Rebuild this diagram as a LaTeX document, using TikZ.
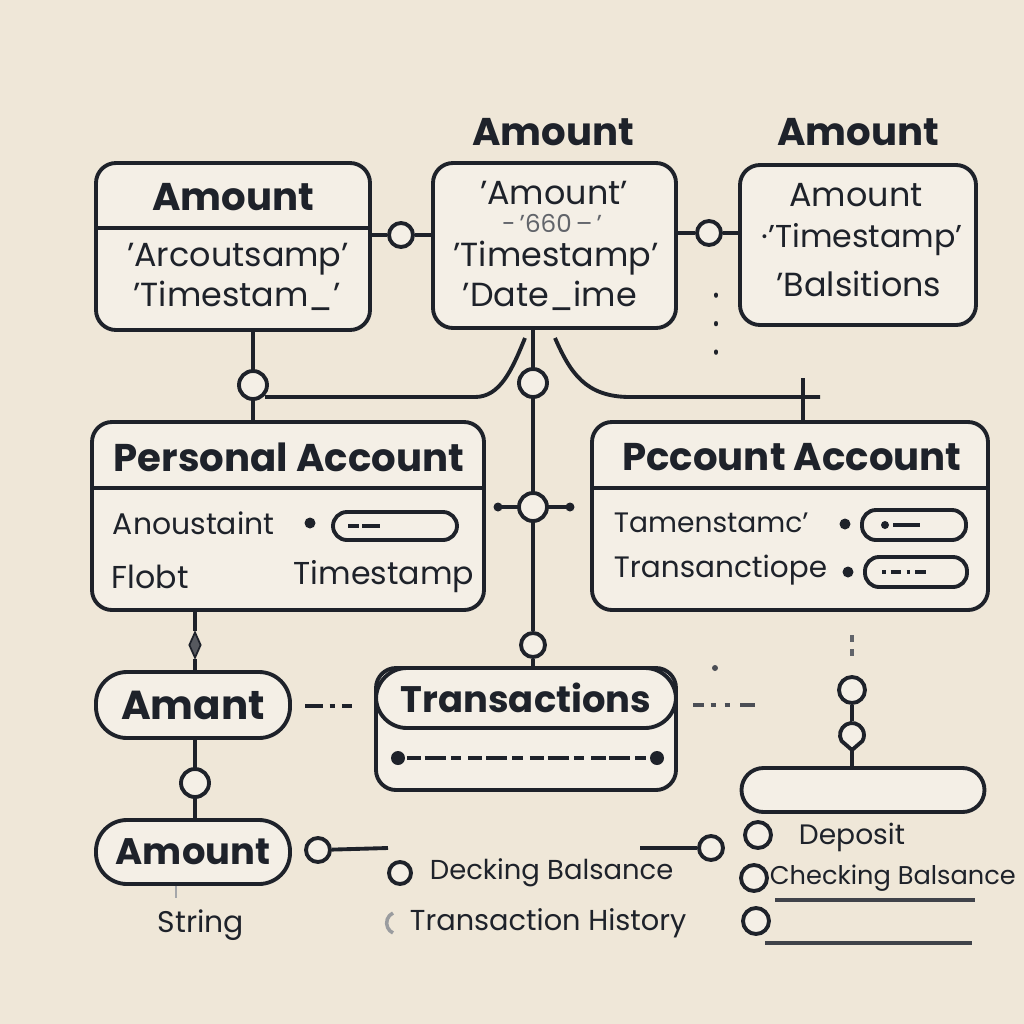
\documentclass[tikz,border=0pt]{standalone}
\usepackage{fontspec}
\setmainfont{Poppins}
\usetikzlibrary{positioning,shapes}
\definecolor{paper}{HTML}{EFE7D8}
\definecolor{boxfill}{HTML}{F4EFE6}
\definecolor{ink}{HTML}{1E222A}

\begin{document}
\begin{tikzpicture}[
    entity/.style={draw=ink,fill=boxfill,rounded corners=2mm,line width=1.1pt,inner sep=0},
    pill/.style={entity,rounded corners=3.1mm},
    slot/.style={draw=ink,rounded corners=1.4mm,line width=1.1pt,minimum height=0.28cm,inner sep=0},
    joint/.style={draw=ink,fill=boxfill,circle,line width=1.1pt,minimum size=2.4mm,inner sep=0},
    title/.style={font=\bfseries\fontsize{11}{13}\selectfont,text=ink},
    lab/.style={font=\fontsize{9.5}{11}\selectfont,text=ink,inner sep=0},
    dotmark/.style={fill=ink,circle,inner sep=0,minimum size=1.1mm},
    every path/.style={line width=1.1pt,color=ink}
  ]
  \fill[paper] (0,0) rectangle (10.24,-10.24);
  \useasboundingbox (0,0) rectangle (10.24,-10.24);

  %top row
  \node[entity,minimum width=2.74cm,minimum height=1.67cm] (amtA) at (2.33,-2.465) {};
  \node[entity,minimum width=2.43cm,minimum height=1.65cm] (amtB) at (5.545,-2.455) {};
  \node[entity,minimum width=2.36cm,minimum height=1.60cm] (amtC) at (8.58,-2.45) {};
  \draw (amtA.west |- 0,-2.28) -- (amtA.east |- 0,-2.28);

  \node[title] (amtAt) at (2.33,-1.97) {Amount};
  \node[lab] (amtA1) at (2.38,-2.59) {'Arcoutsamp'};
  \node[lab] (amtA2) at (2.37,-2.96) {'Timestam\_'};

  \node[title] (amtBt) at (5.53,-1.32) {Amount};
  \node[lab] (amtB1) at (5.54,-1.93) {'Amount'};
  \node[lab,text=ink!70,font=\fontsize{7}{8}\selectfont] (amtB2) at (5.52,-2.23) {-\,'660\,--\,'};
  \node[lab] (amtB3) at (5.56,-2.58) {'Timestamp'};
  \node[lab] (amtB4) at (5.50,-2.96) {'Date\_ime};

  \node[title] (amtCt) at (8.58,-1.32) {Amount};
  \node[lab] (amtC1) at (8.56,-1.95) {Amount};
  \node[lab,font=\fontsize{9}{11}\selectfont] (amtC2) at (8.62,-2.40) {\textperiodcentered'Timestamp'};
  \node[lab] (amtC3) at (8.59,-2.84) {'Balsitions};

  \node[joint] (jAB) at (4.01,-2.35) {};
  \node[joint] (jBC) at (7.09,-2.33) {};
  \draw (jAB) -- (jAB -| amtA.east);
  \draw (jAB) -- (jAB -| amtB.west);
  \draw (jBC) -- (jBC -| amtB.east);
  \draw (jBC) -- (jBC -| amtC.west);
  \draw[dash pattern=on 0.1pt off 8pt,line cap=round,line width=1.4pt] (7.16,-2.95) -- (7.16,-3.80);

  %middle row
  \node[entity,minimum width=3.92cm,minimum height=1.88cm] (personal) at (2.88,-5.16) {};
  \node[entity,minimum width=3.96cm,minimum height=1.88cm] (pccount) at (7.90,-5.16) {};
  \draw (personal.west |- 0,-4.88) -- (personal.east |- 0,-4.88);
  \draw (pccount.west |- 0,-4.88) -- (pccount.east |- 0,-4.88);

  \node[title] (personalt) at (2.89,-4.57) {Personal Account};
  \node[lab,anchor=west,font=\fontsize{8.5}{10}\selectfont] (pers1) at (1.11,-5.23) {Anoustaint};
  \node[dotmark] (pers1d) at (3.10,-5.23) {};
  \node[slot,minimum width=1.24cm] (pers1s) at (3.95,-5.26) {};
  \draw[dash pattern=on 3pt off 1pt on 5pt off 1pt] (3.48,-5.26) -- (3.82,-5.26);
  \node[lab,anchor=west,font=\fontsize{9}{10}\selectfont] (pers2) at (1.10,-5.77) {Flobt};
  \node[lab,anchor=east,font=\fontsize{9}{10}\selectfont] (pers3) at (4.76,-5.77) {Timestamp};

  \node[title] (pccountt) at (7.92,-4.57) {Pccount Account};
  \node[lab,anchor=west,font=\fontsize{8}{10}\selectfont] (pcc1) at (6.12,-5.23) {Tamenstamc'};
  \node[dotmark] (pcc1d) at (8.45,-5.24) {};
  \node[slot,minimum width=1.04cm,minimum height=0.30cm] (pcc1s) at (9.14,-5.25) {};
  \node[dotmark,minimum size=0.8mm] (pcc1i) at (8.85,-5.25) {};
  \draw (8.93,-5.25) -- (9.20,-5.25);
  \node[lab,anchor=west,font=\fontsize{8.4}{10}\selectfont] (pcc2) at (6.12,-5.70) {Transanctiope};
  \node[dotmark] (pcc2d) at (8.48,-5.72) {};
  \node[slot,minimum width=1.02cm,minimum height=0.30cm] (pcc2s) at (9.16,-5.72) {};
  \draw[dash pattern=on 1pt off 1.5pt on 3pt off 1.5pt] (8.82,-5.72) -- (9.30,-5.72);

  %links between rows
  \node[joint,minimum height=2.8mm] (jA) at (2.53,-3.85) {};
  \draw (jA) -- (jA |- amtA.south);
  \draw (jA) -- (jA |- personal.north);
  \coordinate (cL) at (2.65,-3.97);
  \coordinate (cB1) at (5.25,-3.38);
  \draw (cL) -- (4.75,-3.97) .. controls (5.00,-3.97) and (5.12,-3.70) .. (cB1);

  \node[joint,minimum height=2.8mm] (jB) at (5.33,-3.83) {};
  \draw (jB) -- (jB |- amtB.south);
  \node[joint,minimum size=2.8mm] (jM) at (5.33,-5.07) {};
  \draw (jB) -- (jM);
  \coordinate (mL) at (4.98,-5.07);
  \coordinate (mR) at (5.70,-5.07);
  \draw (jM) -- (mL);
  \draw (jM) -- (mR);
  \fill (mL) circle (0.45mm);
  \fill (mR) circle (0.45mm);

  \coordinate (cB2) at (5.55,-3.38);
  \coordinate (cR) at (8.20,-3.97);
  \draw (cB2) .. controls (5.70,-3.72) and (5.85,-3.97) .. (6.30,-3.97) -- (cR);
  \coordinate (cX) at (8.03,-3.78);
  \draw (cX) -- (cX |- pccount.north);

  %lower row
  \node[pill,minimum width=1.94cm,minimum height=0.66cm] (amant) at (1.93,-7.05) {};
  \node[title,font=\bfseries\fontsize{11.5}{13}\selectfont] (amantt) at (1.93,-7.05) {Amant};
  \node[draw=ink,fill=ink!75,diamond,aspect=0.45,minimum width=1.2mm,minimum height=2.6mm,inner sep=0,line width=0.5pt] (dia) at (1.95,-6.45) {};
  \draw (dia) -- (dia |- personal.south);
  \draw (dia) -- (dia |- amant.north);

  \node[entity,minimum width=3.00cm,minimum height=1.22cm] (transLow) at (5.26,-7.29) {};
  \node[pill,minimum width=3.00cm,minimum height=0.60cm] (trans) at (5.26,-6.98) {};
  \node[title,font=\bfseries\fontsize{10.5}{13}\selectfont] (transt) at (5.26,-6.98) {Transactions};
  \node[dotmark,minimum size=1.4mm] (transd1) at (3.98,-7.58) {};
  \node[dotmark,minimum size=1.4mm] (transd2) at (6.57,-7.58) {};
  \draw[dash pattern=on 4pt off 1pt on 6pt off 1.5pt on 3pt off 2pt] (transd1) -- (transd2);

  \node[joint] (jT) at (5.33,-6.45) {};
  \draw (jM) -- (jT);
  \draw (jT) -- (jT |- trans.north);

  \coordinate (aT1) at (3.05,-7.06);
  \coordinate (aT2) at (3.55,-7.06);
  \draw[dash pattern=on 5pt off 2pt on 1.5pt off 2pt on 3pt off 9pt] (aT1) -- (aT2);
  \coordinate (tR1) at (6.93,-7.05);
  \coordinate (tR2) at (7.62,-7.05);
  \draw[dash pattern=on 3pt off 2pt on 1.5pt off 2.5pt on 1.5pt off 3pt on 4pt off 9pt,color=ink!80] (tR1) -- (tR2);
  \fill[ink!80] (7.15,-6.68) circle (0.3mm);

  \node[pill,rounded corners=2.2mm,minimum width=2.43cm,minimum height=0.44cm] (blank) at (8.63,-7.90) {};
  \node[joint,minimum size=2.6mm] (jR) at (8.52,-6.90) {};
  \node[circle,minimum size=2.4mm,inner sep=0] (drop) at (8.52,-7.35) {};
  \coordinate (dropTip) at (8.52,-7.50);
  \draw[fill=boxfill,line join=round] (dropTip) -- (8.416,-7.41) arc (210:-30:0.12) -- cycle;
  \draw[dash pattern=on 2pt off 2pt,color=ink!70] (8.52,-6.35) -- (8.52,-6.62);
  \draw (jR) -- (drop);
  \draw (dropTip) -- (dropTip |- blank.north);

  \node[pill,minimum width=1.94cm,minimum height=0.64cm] (amount) at (1.93,-8.52) {};
  \node[title,font=\bfseries\fontsize{10.5}{13}\selectfont] (amountt) at (1.93,-8.52) {Amount};
  \node[joint,minimum height=2.8mm] (jAm) at (1.95,-7.83) {};
  \draw (jAm) -- (jAm |- amant.south);
  \draw (jAm) -- (jAm |- amount.north);
  \draw[ink!40,line width=0.6pt] (amount.south -| 1.76,0) -- (1.76,-8.98);
  \node[lab,font=\fontsize{8.5}{10}\selectfont] (string) at (2.01,-9.25) {String};

  %lists
  \node[joint] (jL) at (3.18,-8.50) {};
  \coordinate (lE) at (3.88,-8.48);
  \draw (jL) -- (lE);
  \node[joint,minimum size=2.2mm] (oDeck) at (4.00,-8.73) {};
  \node[lab,anchor=west,font=\fontsize{7.8}{10}\selectfont] (deck) at (4.28,-8.73) {Decking Balsance};
  \draw[ink!45,line width=1pt] (3.93,-9.13) arc (115:245:0.11);
  \node[lab,anchor=west,font=\fontsize{8.2}{10}\selectfont] (hist) at (4.08,-9.23) {Transaction History};

  \node[joint] (jRr) at (7.11,-8.48) {};
  \coordinate (lS) at (6.40,-8.48);
  \draw (lS) -- (jRr);

  \node[joint,minimum size=2.6mm] (oDep) at (7.58,-8.35) {};
  \node[lab,anchor=west,font=\fontsize{8}{10}\selectfont] (dep) at (7.97,-8.37) {Deposit};
  \node[joint,minimum size=2.6mm] (oChk) at (7.54,-8.78) {};
  \node[lab,anchor=west,font=\fontsize{7.3}{10}\selectfont] (chk) at (7.68,-8.78) {Checking Balsance};
  \draw[ink!85] (7.75,-9.00) -- (9.75,-9.00);
  \node[joint,minimum size=2.6mm] (oEmp) at (7.56,-9.21) {};
  \draw[ink!85] (7.65,-9.43) -- (9.72,-9.43);
\end{tikzpicture}
\end{document}
